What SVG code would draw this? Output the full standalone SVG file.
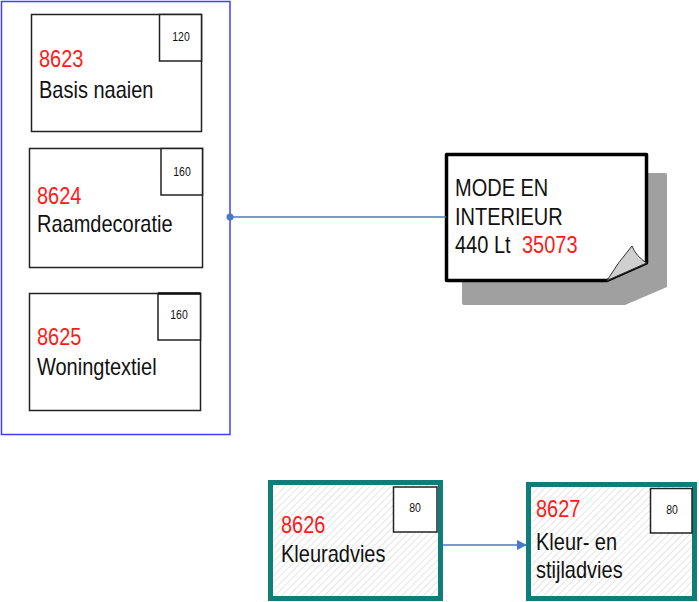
<svg xmlns="http://www.w3.org/2000/svg" width="699" height="602" viewBox="0 0 699 602">
<style>
.t{font-family:"Liberation Sans",Arial,sans-serif;font-size:20px;fill:#111}
.r{fill:#ff1a1a}
.s{font-family:"Liberation Sans",Arial,sans-serif;font-size:10.5px;fill:#111;text-anchor:middle}
.box{fill:#fff;stroke:#222;stroke-width:1.5}
.tbox{fill:url(#hatch);stroke:#0e7e7a;stroke-width:5}
.conn{stroke:#4a78c8;stroke-width:1.3;fill:none}
</style>
<defs>
<pattern id="hatch" width="5" height="5" patternUnits="userSpaceOnUse" patternTransform="rotate(45)">
<rect width="5" height="5" fill="#fff"/>
<line x1="0" y1="0" x2="0" y2="5" stroke="#d4d4d4" stroke-width="1.2"/>
</pattern>
<marker id="arr" markerWidth="10" markerHeight="10" refX="9" refY="5" orient="auto" markerUnits="userSpaceOnUse">
<path d="M0,0 L10,5 L0,10 Z" fill="#4a78c8"/>
</marker>
</defs>
<rect width="699" height="602" fill="#fff"/>

<g id="container">
<rect x="1.5" y="1.5" width="228.5" height="433" fill="none" stroke="#3f3fff" stroke-width="1.5"/>
</g>

<g id="n8623">
<rect class="box" x="31.5" y="14.5" width="170" height="117"/>
<rect class="box" x="159.5" y="14.5" width="42" height="46.5"/>
<text class="s" transform="translate(181,41) scale(1,1.3)">120</text>
<text class="t r" transform="translate(39,67) scale(1,1.18)">8623</text>
<text class="t" transform="translate(39,98) scale(1,1.18)">Basis naaien</text>
</g>

<g id="n8624">
<rect class="box" x="29.5" y="148.5" width="173" height="119"/>
<rect class="box" x="161" y="148.5" width="41.5" height="46.5"/>
<text class="s" transform="translate(182,176) scale(1,1.3)">160</text>
<text class="t r" transform="translate(37,204) scale(1,1.18)">8624</text>
<text class="t" transform="translate(37,232) scale(1,1.18)">Raamdecoratie</text>
</g>

<g id="n8625">
<rect class="box" x="29.5" y="293.5" width="171" height="117"/>
<rect class="box" x="158" y="293.5" width="42.5" height="46.5"/>
<line x1="158" y1="293.5" x2="200.5" y2="293.5" stroke="#111" stroke-width="2.5"/>
<text class="s" transform="translate(179,319) scale(1,1.3)">160</text>
<text class="t r" transform="translate(37,345) scale(1,1.18)">8625</text>
<text class="t" transform="translate(37,375) scale(1,1.18)">Woningtextiel</text>
</g>

<g id="note">
<path d="M464,173 H665 Q667,173 667,175 V287 L625,305 H464 Q462,305 462,303 V175 Q462,173 464,173 Z" fill="#a0a0a0"/>
<path d="M446.5,154.5 H646.5 V263 L607,280.5 H446.5 Z" fill="#fff" stroke="#000" stroke-width="3.5" stroke-linejoin="round"/>
<path d="M607,280.5 Q618,262 632,246 Q636,256 646.5,263 Z" fill="#cfcfcf" stroke="#333" stroke-width="1"/>
<text class="t" transform="translate(455,196) scale(1,1.18)">MODE EN</text>
<text class="t" transform="translate(455,225) scale(1,1.18)">INTERIEUR</text>
<text class="t" transform="translate(455,253) scale(1,1.18)">440 Lt</text>
<text class="t r" transform="translate(522,253) scale(1,1.18)">35073</text>
</g>

<g id="n8626">
<rect class="tbox" x="270.5" y="482.5" width="170" height="116"/>
<rect class="box" x="393.5" y="487" width="43.5" height="45" stroke-width="1.8"/>
<text class="s" transform="translate(415,512) scale(1,1.3)">80</text>
<text class="t r" transform="translate(281,533) scale(1,1.18)">8626</text>
<text class="t" transform="translate(281,562) scale(1,1.18)">Kleuradvies</text>
</g>

<g id="n8627">
<rect class="tbox" x="528.5" y="484.5" width="166" height="114"/>
<rect class="box" x="650.5" y="488.5" width="41.5" height="44.5" stroke-width="1.8"/>
<text class="s" transform="translate(672,514) scale(1,1.3)">80</text>
<text class="t r" transform="translate(536,517) scale(1,1.18)">8627</text>
<text class="t" transform="translate(536,550) scale(1,1.18)">Kleur- en</text>
<text class="t" transform="translate(536,578) scale(1,1.18)">stijladvies</text>
</g>

<g id="connectors">
<line class="conn" x1="230" y1="217" x2="446" y2="217"/>
<circle cx="230" cy="217" r="3.5" fill="#4a78c8"/>
<line class="conn" x1="443" y1="545" x2="526" y2="545" marker-end="url(#arr)"/>
</g>
</svg>
